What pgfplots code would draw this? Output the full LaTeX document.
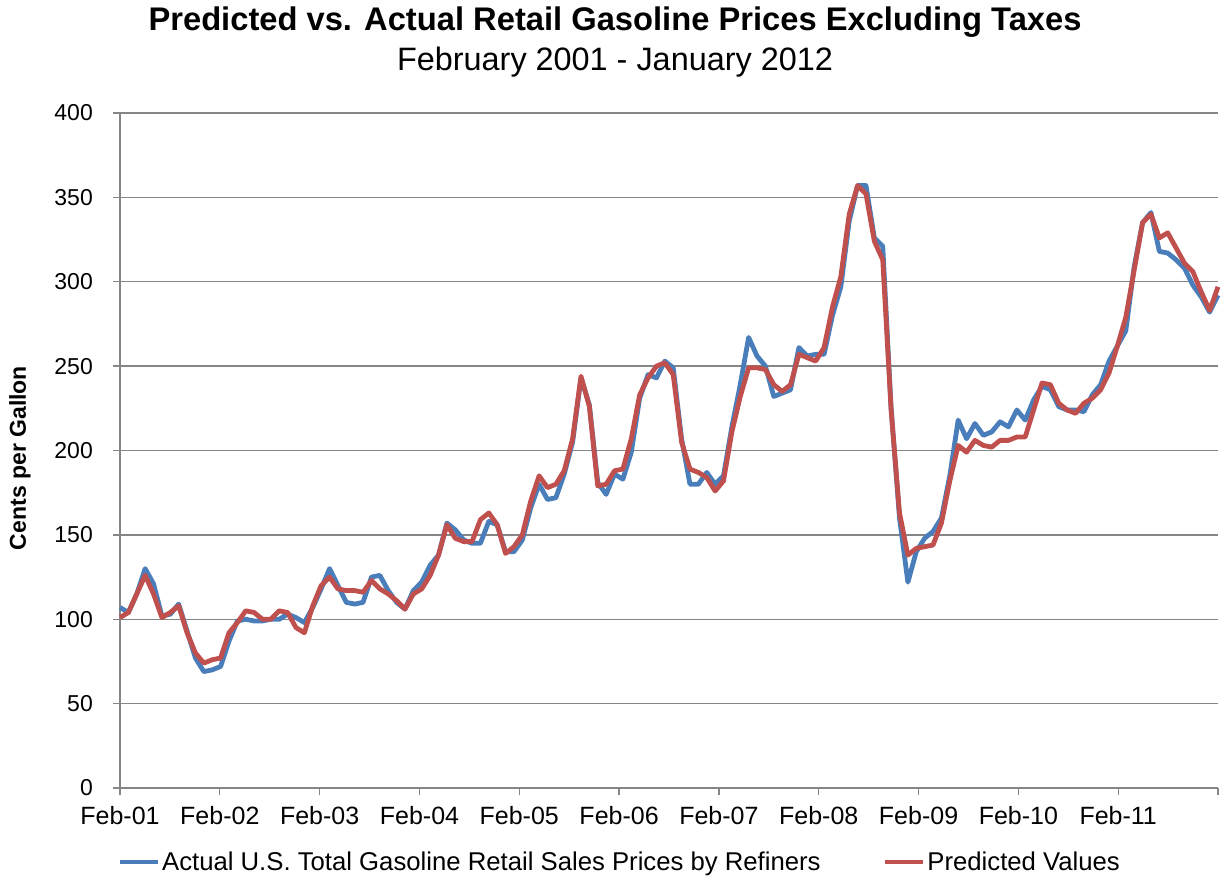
\documentclass[border=0pt]{standalone}
\usepackage{pgfplots}
\pgfplotsset{compat=1.18}
\usepackage{pgfplotstable}
\usepackage{fontspec}
\setmainfont{Liberation Sans}
\definecolor{actblue}{RGB}{74,126,187}
\definecolor{predred}{RGB}{192,80,77}
\definecolor{gridgray}{RGB}{134,134,134}
\pgfplotstableread{
i actual predicted
0 107 101
1 104 104
2 115 115
3 130 126
4 121 115
5 102 101
6 103 104
7 109 108
8 93 92
9 77 80
10 69 74
11 70 76
12 72 77
13 87 92
14 99 98
15 100 105
16 99 104
17 99 100
18 100 100
19 100 105
20 103 104
21 101 95
22 98 92
23 107 108
24 118 120
25 130 125
26 120 118
27 110 117
28 109 117
29 110 116
30 125 123
31 126 118
32 117 115
33 110 111
34 106 106
35 117 115
36 122 118
37 132 126
38 138 138
39 157 156
40 153 148
41 147 146
42 145 146
43 145 159
44 158 163
45 156 156
46 140 139
47 140 143
48 147 150
49 166 170
50 180 185
51 171 178
52 172 180
53 186 188
54 205 207
55 243 244
56 227 226
57 181 179
58 174 180
59 186 188
60 183 189
61 199 207
62 231 233
63 245 243
64 243 250
65 253 252
66 249 245
67 207 205
68 180 189
69 180 187
70 187 184
71 180 176
72 185 182
73 214 211
74 239 232
75 267 249
76 256 249
77 250 248
78 232 239
79 234 235
80 236 239
81 261 257
82 256 255
83 257 253
84 257 261
85 280 285
86 297 303
87 336 340
88 357 357
89 357 352
90 326 324
91 321 313
92 225 224
93 160 163
94 122 138
95 140 142
96 148 143
97 152 144
98 160 157
99 185 182
100 218 203
101 207 199
102 216 206
103 209 203
104 211 202
105 217 206
106 214 206
107 224 208
108 218 208
109 230 224
110 238 240
111 236 239
112 226 228
113 224 224
114 224 222
115 223 228
116 233 231
117 239 236
118 253 246
119 262 262
120 271 279
121 309 307
122 335 335
123 341 340
124 318 326
125 317 329
126 313 320
127 308 311
128 298 306
129 291 294
130 282 283
131 292 297
}\gasdata
\begin{document}
\begin{tikzpicture}
\useasboundingbox (0pt,0pt) rectangle (1225pt,879pt);
\node[font=\fontsize{32.7}{38}\selectfont\bfseries] at (615pt,857pt) {Predicted vs. Actual Retail Gasoline Prices Excluding Taxes};
\node[font=\fontsize{32.4}{38}\selectfont] at (615pt,817pt) {February 2001 - January 2012};
\node[font=\fontsize{23}{28}\selectfont\bfseries, rotate=90] at (20pt,421pt) {Cents per Gallon};
\begin{axis}[
  at={(120pt,91pt)}, anchor=south west,
  scale only axis, width=1098pt, height=675pt,
  xmin=0, xmax=131, ymin=0, ymax=400,
  axis x line*=bottom, axis y line*=left,
  axis line style={-, draw=gridgray, line width=1.3pt},
  ytick={0,50,...,400},
  xtick={0,11.909,23.818,35.727,47.636,59.545,71.455,83.364,95.273,107.182,119.091,131},
  xticklabels={Feb-01,Feb-02,Feb-03,Feb-04,Feb-05,Feb-06,Feb-07,Feb-08,Feb-09,Feb-10,Feb-11,{}},
  tick align=outside, major tick length=7pt,
  tick style={draw=gridgray, line width=1.3pt},
  ymajorgrids, major grid style={draw=gridgray, line width=1.3pt},
  /pgf/number format/assume math mode=true,
  yticklabel style={font=\fontsize{23}{28}\selectfont, anchor=east, inner sep=0pt, xshift=-20pt},
  xticklabel style={font=\fontsize{25}{30}\selectfont, anchor=north, inner sep=0pt, yshift=-11pt},
  legend columns=2,
  legend style={at={(rel axis cs:0.455,-0.1096)}, anchor=center, draw=none, fill=none,
    font=\fontsize{25.7}{30}\selectfont,
    /tikz/every even column/.append style={column sep=60pt},
    nodes={inner sep=2pt}},
  legend image code/.code={\draw[#1] (0pt,0pt) -- (38pt,0pt);},
  clip=false,
]
\addplot[actblue, line width=4.8pt, line join=round] table[x=i, y=actual] {\gasdata};
\addlegendentry{Actual U.S. Total Gasoline Retail Sales Prices by Refiners}
\addplot[predred, line width=4.8pt, line join=round] table[x=i, y=predicted] {\gasdata};
\addlegendentry{Predicted Values}
\end{axis}
\end{tikzpicture}
\end{document}
